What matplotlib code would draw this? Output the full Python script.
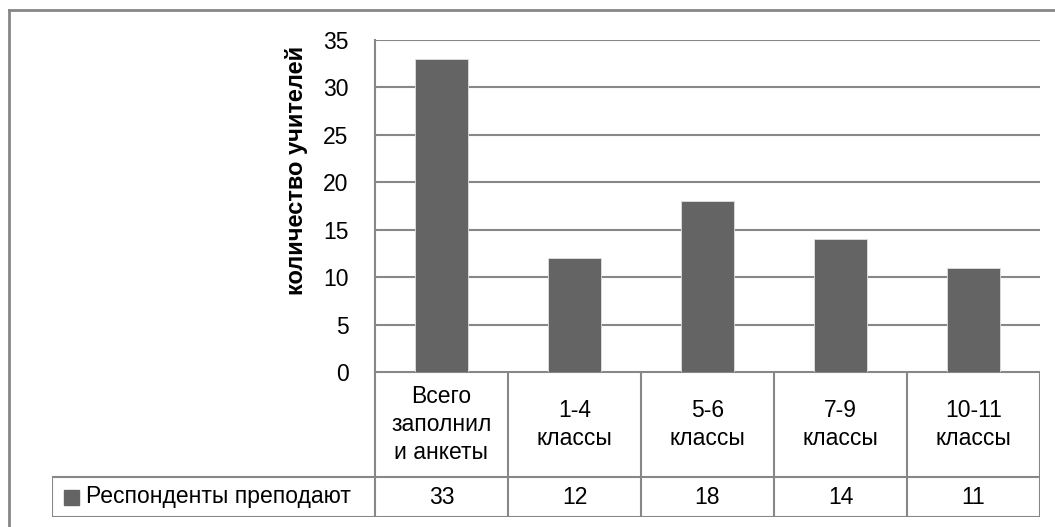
import matplotlib
matplotlib.use("Agg")
import matplotlib.pyplot as plt
from matplotlib.lines import Line2D
from matplotlib.patches import Rectangle

plt.rcParams['font.family'] = ['Liberation Sans', 'DejaVu Sans']

categories = ["Всего\nзаполнил\nи анкеты", "1-4\nклассы", "5-6\nклассы",
              "7-9\nклассы", "10-11\nклассы"]
values = [33, 12, 18, 14, 11]
series_name = "Респонденты преподают"
y_label = "количество учителей"
y_ticks = [0, 5, 10, 15, 20, 25, 30, 35]

bar_color = "#646464"
line_color = "#878787"
fs = 16.5

W, H = 1055, 527
fig = plt.figure(figsize=(W / 100, H / 100), dpi=100)

def fx(px):
    return px / W

def fy(py):
    return 1 - py / H

# plot area in pixels
L, R, T, B = 375, 1040, 40, 372
ax = fig.add_axes([fx(L), fy(B), fx(R) - fx(L), fy(T) - fy(B)])
n = len(values)
x = list(range(n))
ax.bar(x, values, width=0.4, color=bar_color, edgecolor="#e0e0e0",
       linewidth=0.6, zorder=3)
ax.set_xlim(-0.5, n - 0.5)
ax.set_ylim(0, 35)
ax.set_yticks(y_ticks)
ax.set_yticklabels([str(t) for t in y_ticks], fontsize=fs)
ax.tick_params(axis='y', length=0, pad=19)
ax.set_xticks([])
ax.grid(axis='y', color=line_color, linewidth=1.5, zorder=0)
for s in ["top", "right", "bottom"]:
    ax.spines[s].set_visible(False)
ax.spines["left"].set_color(line_color)
ax.spines["left"].set_linewidth(1.5)
ax.set_ylabel(y_label, fontsize=17, fontweight='bold')
# label anchor is its right edge once rotated
ax.yaxis.set_label_coords((308 - L) / (R - L), (B - 170) / (B - T))

# data table below the plot
TL, TB, TR = 52, 517, R
row_top = 477
tab = fig.add_axes([fx(TL), fy(TB), fx(TR) - fx(TL), fy(B) - fy(TB)])
cat_w = (R - L) / n
left_ext = (L - TL) / cat_w
tab.set_xlim(-0.5 - left_ext, n - 0.5)
tab.set_ylim(TB, B)
tab.axis("off")

lw = 1.5
# header row: horizontal top line and vertical separators
tab.plot([-0.5, n - 0.5], [B, B], color=line_color, lw=lw)
tab.plot([-0.5 - left_ext, n - 0.5], [row_top, row_top], color=line_color, lw=lw)
tab.plot([-0.5 - left_ext, n - 0.5], [TB, TB], color=line_color, lw=lw)
for i in range(n + 1):
    tab.plot([i - 0.5, i - 0.5], [B, TB], color=line_color, lw=lw)
tab.plot([-0.5 - left_ext] * 2, [row_top, TB], color=line_color, lw=lw)

for i, (c, v) in enumerate(zip(categories, values)):
    tab.text(i, (B + row_top) / 2, c, ha="center", va="center",
             fontsize=fs, linespacing=1.3)
    tab.text(i, (row_top + TB) / 2, str(v), ha="center", va="center",
             fontsize=fs)

# legend key in the first cell of the value row
key_x = -0.5 - left_ext + 12 / cat_w
tab.add_patch(Rectangle((key_x, 505), 15 / cat_w, -15, color=bar_color))
tab.text(key_x + 22 / cat_w, (row_top + TB) / 2, series_name, ha="left",
         va="center", fontsize=fs)

# chart frame (clipped by the image edges on the right and bottom)
fig.add_artist(Line2D([fx(9), fx(9)], [fy(10), 0], color=line_color, lw=2))
fig.add_artist(Line2D([fx(9), 1], [fy(10), fy(10)], color=line_color, lw=2))

fig.savefig("out.png", dpi=100)
